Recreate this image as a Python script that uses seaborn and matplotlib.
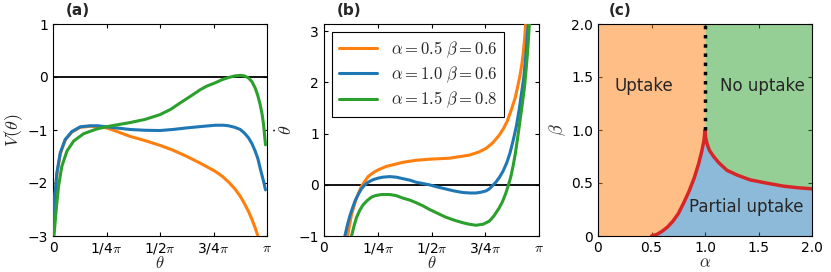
import numpy as np
import matplotlib
matplotlib.use('Agg')
import matplotlib.pyplot as plt
import seaborn as sns

# ---- panel (a): V(theta), theta in units of pi ----
a_orange_t = [0.001, 0.0023, 0.010, 0.018, 0.034, 0.057, 0.088, 0.127, 0.174, 0.21, 0.25, 0.30,
              0.36, 0.43, 0.50, 0.56, 0.626, 0.69, 0.758, 0.79, 0.82, 0.85, 0.875, 0.895,
              0.914, 0.93, 0.945, 0.962]
a_orange_v = [-3.0, -2.72, -2.22, -1.84, -1.45, -1.19, -1.04, -0.95, -0.93, -0.94, -0.96, -1.03,
              -1.12, -1.20, -1.29, -1.38, -1.50, -1.63, -1.78, -1.87, -1.98, -2.11, -2.25, -2.39,
              -2.54, -2.69, -2.85, -3.05]

a_blue_t = [0.001, 0.0023, 0.010, 0.018, 0.034, 0.057, 0.088, 0.127, 0.174, 0.21, 0.25, 0.36,
            0.43, 0.50, 0.56, 0.626, 0.69, 0.758, 0.797, 0.82, 0.85, 0.875, 0.895, 0.914, 0.93,
            0.945, 0.958, 0.968, 0.984, 0.993]
a_blue_v = [-3.0, -2.69, -2.19, -1.81, -1.43, -1.18, -1.03, -0.94, -0.92, -0.92, -0.94, -0.99,
            -1.005, -1.01, -0.99, -0.96, -0.935, -0.91, -0.91, -0.92, -0.95, -0.99, -1.06, -1.15,
            -1.26, -1.40, -1.55, -1.72, -1.97, -2.13]

a_green_t = [0.0045, 0.015, 0.026, 0.041, 0.065, 0.096, 0.143, 0.205, 0.26, 0.36, 0.43, 0.50,
             0.55, 0.594, 0.64, 0.688, 0.72, 0.758, 0.79, 0.82, 0.85, 0.875, 0.895, 0.914, 0.93,
             0.945, 0.957, 0.968, 0.977, 0.984, 0.993]
a_green_v = [-3.0, -2.50, -2.06, -1.69, -1.40, -1.21, -1.07, -0.98, -0.93, -0.86, -0.80, -0.71,
             -0.61, -0.49, -0.37, -0.24, -0.17, -0.11, -0.05, -0.01, 0.02, 0.03, 0.02, -0.02, -0.09,
             -0.21, -0.35, -0.52, -0.70, -0.90, -1.28]

# ---- panel (b): theta dot ----
b_orange_t = [0.11, 0.118, 0.128, 0.14, 0.151, 0.174, 0.19, 0.205, 0.23, 0.251, 0.29, 0.329,
              0.367, 0.43, 0.49, 0.583, 0.676, 0.72, 0.753, 0.785, 0.815, 0.835, 0.853, 0.87,
              0.888, 0.90, 0.911, 0.92, 0.927, 0.933, 0.938]
b_orange_v = [-1.0, -0.8, -0.58, -0.41, -0.26, -0.03, 0.07, 0.16, 0.24, 0.29, 0.36, 0.40,
              0.44, 0.48, 0.50, 0.52, 0.58, 0.64, 0.71, 0.82, 0.97, 1.10, 1.25, 1.45,
              1.68, 1.90, 2.12, 2.35, 2.58, 2.85, 3.14]

b_blue_t = [0.097, 0.108, 0.12, 0.132, 0.144, 0.159, 0.174, 0.19, 0.205, 0.228, 0.251, 0.275,
            0.306, 0.335, 0.367, 0.40, 0.429, 0.46, 0.49, 0.525, 0.565, 0.605, 0.645, 0.68,
            0.707, 0.73, 0.753, 0.769, 0.799, 0.815, 0.832, 0.85, 0.865, 0.88, 0.895, 0.907,
            0.918, 0.929, 0.936, 0.942, 0.95]
b_blue_v = [-1.0, -0.8, -0.61, -0.46, -0.32, -0.19, -0.08, 0.0, 0.05, 0.10, 0.13, 0.15,
            0.16, 0.15, 0.12, 0.09, 0.05, 0.025, 0.0, -0.04, -0.08, -0.12, -0.15, -0.16,
            -0.16, -0.145, -0.12, -0.08, 0.05, 0.14, 0.26, 0.43, 0.62, 0.87, 1.15, 1.45,
            1.77, 2.09, 2.40, 2.70, 3.14]

b_green_t = [0.128, 0.14, 0.151, 0.166, 0.182, 0.20, 0.221, 0.24, 0.267, 0.306, 0.335, 0.367,
             0.40, 0.429, 0.46, 0.49, 0.53, 0.565, 0.605, 0.645, 0.675, 0.707, 0.74, 0.769,
             0.79, 0.815, 0.83, 0.846, 0.858, 0.869, 0.88, 0.89, 0.90, 0.913, 0.923, 0.933,
             0.94, 0.946, 0.951, 0.955]
b_green_v = [-1.0, -0.8, -0.64, -0.5, -0.39, -0.31, -0.24, -0.21, -0.19, -0.19, -0.21, -0.26,
             -0.30, -0.35, -0.41, -0.48, -0.56, -0.63, -0.69, -0.74, -0.77, -0.79, -0.77, -0.71,
             -0.61, -0.45, -0.33, -0.16, 0.0, 0.16, 0.38, 0.61, 0.9, 1.29, 1.6, 1.93,
             2.25, 2.55, 2.85, 3.14]

labels = [r'$\alpha=0.5\ \beta=0.6$', r'$\alpha=1.0\ \beta=0.6$', r'$\alpha=1.5\ \beta=0.8$']
colors = ['#ff7f0e', '#1f77b4', '#2ca02c']

# ---- panel (c): phase boundary ----
left_alpha = [0.5, 0.55, 0.6, 0.65, 0.7, 0.75, 0.8, 0.85, 0.9, 0.94, 0.97, 0.99, 1.0]
left_beta = [0.0, 0.015, 0.045, 0.085, 0.14, 0.21, 0.31, 0.42, 0.55, 0.68, 0.8, 0.9, 1.0]
right_alpha = [1.0, 1.005, 1.019, 1.04, 1.08, 1.13, 1.205, 1.3, 1.42, 1.57, 1.735, 1.87, 2.0]
right_beta = [1.0, 0.93, 0.87, 0.81, 0.75, 0.69, 0.62, 0.575, 0.53, 0.5, 0.47, 0.455, 0.445]

sns.set_style('ticks')
plt.rcParams['font.family'] = ['DejaVu Sans']
plt.rcParams['mathtext.fontset'] = 'cm'
plt.rcParams['axes.edgecolor'] = 'black'
plt.rcParams['axes.linewidth'] = 0.8
for k in ['xtick', 'ytick']:
    plt.rcParams[k + '.direction'] = 'in'
    plt.rcParams[k + '.major.size'] = 3
    plt.rcParams[k + '.major.width'] = 0.8
    plt.rcParams[k + '.labelsize'] = 10
    plt.rcParams[k + '.color'] = 'black'
plt.rcParams['xtick.top'] = True
plt.rcParams['ytick.right'] = True

fig = plt.figure(figsize=(8.31, 2.72), dpi=100)
W, H = 831, 272
def rect(x0, x1, y0=24, y1=236):
    return [x0 / W, (H - y1) / H, (x1 - x0) / W, (y1 - y0) / H]

ax1 = fig.add_axes(rect(53, 267))
ax2 = fig.add_axes(rect(324, 539))
ax3 = fig.add_axes(rect(598, 812))

pi_ticks = [0, np.pi / 4, np.pi / 2, 3 * np.pi / 4, np.pi]
pi_labels = ['0', r'1/4$\pi$', r'1/2$\pi$', r'3/4$\pi$', r'$\pi$']

# (a)
ax1.axhline(0, color='black', lw=1.3, zorder=1)
for t, v, c in [(a_orange_t, a_orange_v, colors[0]), (a_blue_t, a_blue_v, colors[1]),
                (a_green_t, a_green_v, colors[2])]:
    sns.lineplot(x=np.array(t) * np.pi, y=v, color=c, lw=2.2, ax=ax1, sort=False, zorder=3)
ax1.set_xlim(0, np.pi)
ax1.set_ylim(-3, 1)
ax1.set_yticks([-3, -2, -1, 0, 1])
ax1.set_xticks(pi_ticks)
ax1.set_xticklabels(pi_labels)
ax1.set_xlabel(r'$\theta$', fontsize=12, labelpad=-1)
ax1.set_ylabel(r'$V(\theta)$', fontsize=13, labelpad=2)
ax1.text(0.06, 1.03, '(a)', transform=ax1.transAxes, fontsize=11, fontweight='bold', va='bottom')

# (b)
ax2.axhline(0, color='black', lw=1.3, zorder=1)
for t, v, c, lab in [(b_orange_t, b_orange_v, colors[0], labels[0]),
                     (b_blue_t, b_blue_v, colors[1], labels[1]),
                     (b_green_t, b_green_v, colors[2], labels[2])]:
    sns.lineplot(x=np.array(t) * np.pi, y=v, color=c, lw=2.2, ax=ax2, sort=False, label=lab, zorder=3)
ax2.set_xlim(0, np.pi)
ax2.set_ylim(-1, np.pi)
ax2.set_yticks([-1, 0, 1, 2, 3])
ax2.set_xticks(pi_ticks)
ax2.set_xticklabels(pi_labels)
ax2.set_xlabel(r'$\theta$', fontsize=12, labelpad=-1)
ax2.set_ylabel(r'$\dot{\theta}$', fontsize=13, labelpad=2)
leg = ax2.legend(loc='upper left', fontsize=12, fancybox=False, framealpha=1,
                 edgecolor='black', handlelength=2.3, borderaxespad=0.5, labelspacing=0.3)
leg.get_frame().set_linewidth(0.8)
ax2.text(0.06, 1.03, '(b)', transform=ax2.transAxes, fontsize=11, fontweight='bold', va='bottom')

# (c)
or_x = [0.0] + left_alpha
or_lo = [0.0] + left_beta
ax3.fill_between(or_x, or_lo, 2.0, color=colors[0], alpha=0.5, lw=0)
bl_x = left_alpha + right_alpha[1:]
bl_hi = left_beta + right_beta[1:]
ax3.fill_between(bl_x, 0.0, bl_hi, color=colors[1], alpha=0.5, lw=0)
ax3.fill_between(right_alpha, right_beta, 2.0, color=colors[2], alpha=0.5, lw=0)
sns.lineplot(x=bl_x, y=bl_hi, color='#d62728', lw=2.5, ax=ax3, sort=False)
ax3.plot([1.0, 1.0], [1.0, 2.0], color='black', lw=2.5, ls=':')
ax3.set_xlim(0, 2)
ax3.set_ylim(0, 2)
ax3.set_xticks([0, 0.5, 1.0, 1.5, 2.0])
ax3.set_xticklabels(['0', '0.5', '1.0', '1.5', '2.0'])
ax3.set_yticks([0, 0.5, 1.0, 1.5, 2.0])
ax3.set_yticklabels(['0', '0.5', '1.0', '1.5', '2.0'])
ax3.set_xlabel(r'$\alpha$', fontsize=12, labelpad=-1)
ax3.set_ylabel(r'$\beta$', fontsize=13, labelpad=2)
ax3.text(0.43, 1.37, 'Uptake', fontsize=12, ha='center', va='baseline')
ax3.text(1.535, 1.37, 'No uptake', fontsize=12, ha='center', va='baseline')
ax3.text(1.39, 0.23, 'Partial uptake', fontsize=12, ha='center', va='baseline')
ax3.text(0.05, 1.03, '(c)', transform=ax3.transAxes, fontsize=11, fontweight='bold', va='bottom')

fig.savefig('out.png', dpi=100)
